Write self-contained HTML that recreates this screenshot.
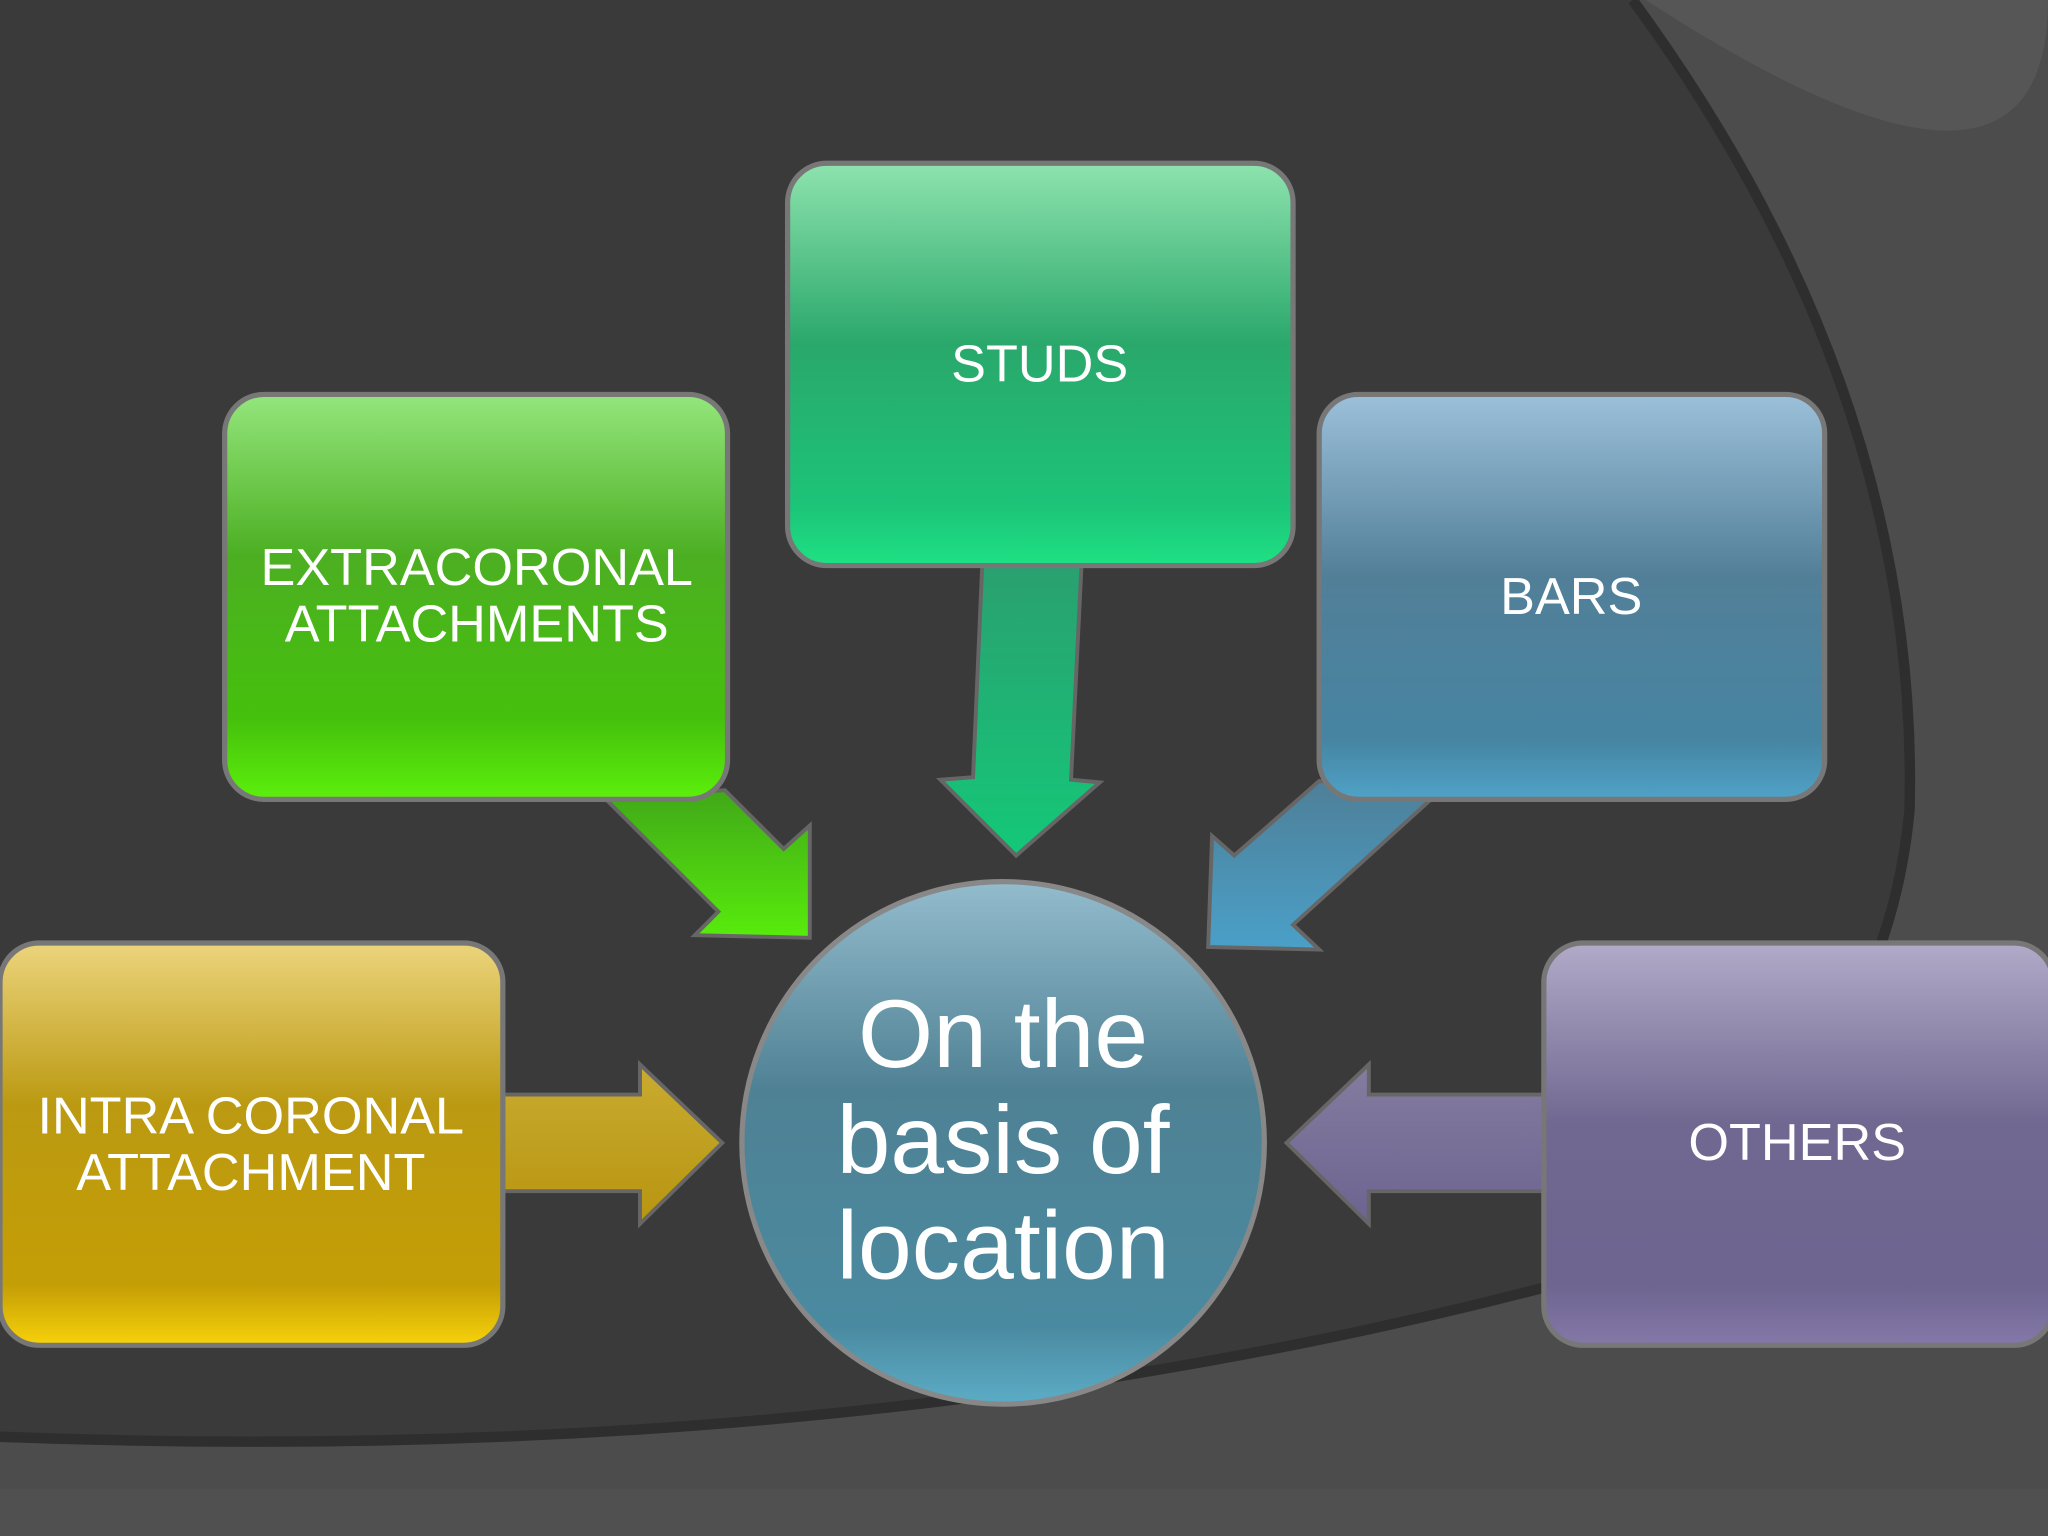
<!DOCTYPE html>
<html><head><meta charset="utf-8"><style>
html,body{margin:0;padding:0;background:#3a3a3a;}
svg{display:block;}
text{font-family:"Liberation Sans",sans-serif;fill:#fff;text-anchor:middle;}
</style></head><body>
<svg width="2048" height="1536" viewBox="0 0 1568 1176" preserveAspectRatio="none" xmlns="http://www.w3.org/2000/svg">
<defs>
<linearGradient id="gS" x1="0" y1="0" x2="0" y2="1"><stop offset="0" stop-color="#8ee3ad"/><stop offset="0.45" stop-color="#2aa86c"/><stop offset="0.85" stop-color="#1cc478"/><stop offset="1" stop-color="#1ee184"/></linearGradient>
<linearGradient id="gE" x1="0" y1="0" x2="0" y2="1"><stop offset="0" stop-color="#94e67c"/><stop offset="0.4" stop-color="#4caf22"/><stop offset="0.8" stop-color="#45c00c"/><stop offset="1" stop-color="#5cf00c"/></linearGradient>
<linearGradient id="gB" x1="0" y1="0" x2="0" y2="1"><stop offset="0" stop-color="#9cc0da"/><stop offset="0.45" stop-color="#527f98"/><stop offset="0.85" stop-color="#4684a2"/><stop offset="1" stop-color="#4fa2c8"/></linearGradient>
<linearGradient id="gI" x1="0" y1="0" x2="0" y2="1"><stop offset="0" stop-color="#ecd47c"/><stop offset="0.4" stop-color="#bb9a12"/><stop offset="0.85" stop-color="#c49e05"/><stop offset="1" stop-color="#f7d20a"/></linearGradient>
<linearGradient id="gO" x1="0" y1="0" x2="0" y2="1"><stop offset="0" stop-color="#b2aac8"/><stop offset="0.45" stop-color="#706890"/><stop offset="0.85" stop-color="#6e6590"/><stop offset="1" stop-color="#8478a8"/></linearGradient>
<linearGradient id="gC" x1="0" y1="0" x2="0" y2="1"><stop offset="0" stop-color="#93bccd"/><stop offset="0.4" stop-color="#4f8194"/><stop offset="0.85" stop-color="#4a8aa0"/><stop offset="1" stop-color="#5cacc6"/></linearGradient>
<linearGradient id="gA1" x1="0" y1="0" x2="0" y2="1"><stop offset="0" stop-color="#2aa070"/><stop offset="1" stop-color="#14c878"/></linearGradient>
<linearGradient id="gA2" x1="0" y1="0" x2="0" y2="1"><stop offset="0" stop-color="#40a818"/><stop offset="1" stop-color="#58ec0c"/></linearGradient>
<linearGradient id="gA3" x1="0" y1="0" x2="0" y2="1"><stop offset="0" stop-color="#4e7f98"/><stop offset="1" stop-color="#4aa0c8"/></linearGradient>
<linearGradient id="gA4" x1="0" y1="0" x2="0" y2="1"><stop offset="0" stop-color="#c9ab30"/><stop offset="1" stop-color="#b89510"/></linearGradient>
<linearGradient id="gA5" x1="0" y1="0" x2="0" y2="1"><stop offset="0" stop-color="#857ca0"/><stop offset="1" stop-color="#6c6490"/></linearGradient>
</defs>
<rect width="1568" height="1176" fill="#3a3a3a"/>
<!-- lighter outer region -->
<path d="M1250,0 L1568,0 L1568,1176 L0,1176 L0,1100 Q650,1125 1185,985 Q1440,860 1462,620 Q1470,300 1250,0 Z" fill="#4c4c4c"/>
<path d="M0,1100 Q650,1125 1185,985 Q1440,860 1462,620 Q1470,300 1250,0" fill="none" stroke="#2e2e2e" stroke-width="8"/>
<path d="M1260,0 Q1568,200 1568,0" fill="#565656"/>
<rect x="0" y="1140" width="1568" height="36" fill="#505050"/>

<!-- arrows -->
<polygon points="752,433 828,433 820,597 842,599 778,655 720,597 745,595" fill="url(#gA1)" stroke="#666" stroke-width="3"/>
<polygon points="462,610 555,605 600,650 620,632 620,718 532,716 550,698" fill="url(#gA2)" stroke="#666" stroke-width="3"/>
<polygon points="1100,608 1010,598 945,655 928,640 925,725 1010,727 990,708" fill="url(#gA3)" stroke="#666" stroke-width="3"/>
<polygon points="385,838 490,838 490,815 553,875 490,937 490,912 385,912" fill="url(#gA4)" stroke="#666" stroke-width="3"/>
<polygon points="1182,838 1048,838 1048,815 985,875 1048,937 1048,912 1182,912" fill="url(#gA5)" stroke="#666" stroke-width="3"/>

<!-- boxes -->
<rect x="603" y="125" width="387" height="308" rx="30" fill="url(#gS)" stroke="#777" stroke-width="4"/>
<rect x="172" y="302" width="385" height="310" rx="30" fill="url(#gE)" stroke="#777" stroke-width="4"/>
<rect x="1010" y="302" width="387" height="310" rx="30" fill="url(#gB)" stroke="#777" stroke-width="4"/>
<rect x="0" y="722" width="385" height="308" rx="30" fill="url(#gI)" stroke="#777" stroke-width="4"/>
<rect x="1182" y="722" width="390" height="308" rx="30" fill="url(#gO)" stroke="#777" stroke-width="4"/>
<circle cx="768" cy="875" r="200" fill="url(#gC)" stroke="#888" stroke-width="4"/>

<!-- text -->
<text x="796" y="292" font-size="40">STUDS</text>
<text x="365" y="448" font-size="40">EXTRACORONAL</text>
<text x="365" y="491" font-size="40">ATTACHMENTS</text>
<text x="1203" y="470" font-size="40">BARS</text>
<text x="192" y="868" font-size="40">INTRA CORONAL</text>
<text x="192" y="911" font-size="40">ATTACHMENT</text>
<text x="1376" y="888" font-size="40">OTHERS</text>
<text x="768" y="817" font-size="74">On the</text>
<text x="768" y="898" font-size="74">basis of</text>
<text x="768" y="979" font-size="74">location</text>
</svg>
</body></html>
